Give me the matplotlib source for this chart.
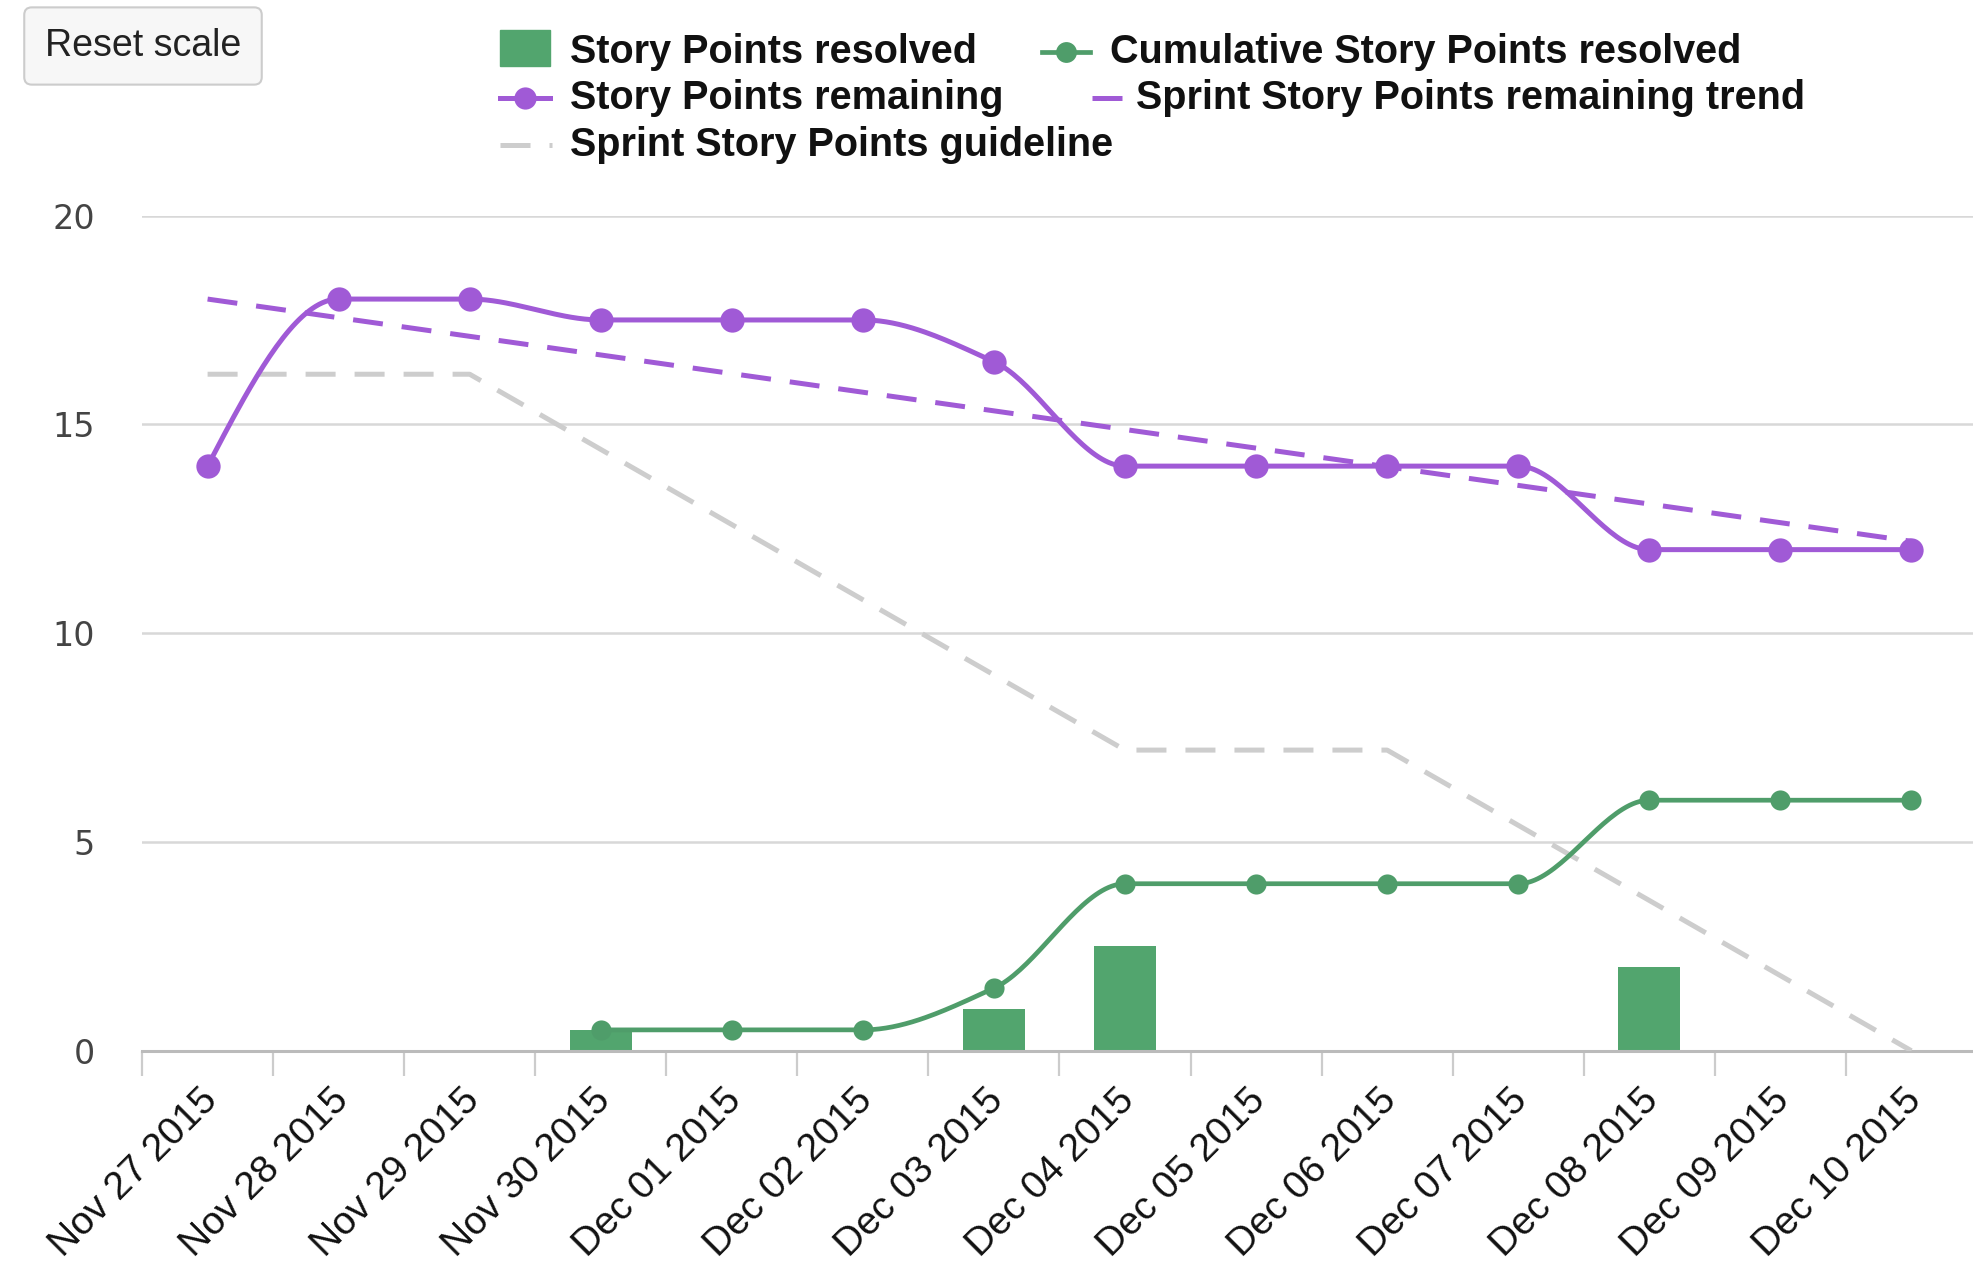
import numpy as np
import matplotlib
matplotlib.use("Agg")
import matplotlib.pyplot as plt
from matplotlib.lines import Line2D
from matplotlib.patches import Rectangle
from matplotlib.transforms import ScaledTranslation


# ── 1. Sprint data ───────────────────────────────────────────────────────────
days = [
    "Nov 27 2015", "Nov 28 2015", "Nov 29 2015", "Nov 30 2015",
    "Dec 01 2015", "Dec 02 2015", "Dec 03 2015", "Dec 04 2015",
    "Dec 05 2015", "Dec 06 2015", "Dec 07 2015", "Dec 08 2015",
    "Dec 09 2015", "Dec 10 2015",
]

# points resolved per day (only days with work done)
resolved_days = [3, 6, 7, 11]
resolved = [0.5, 1.0, 2.5, 2.0]

# cumulative resolved starts on the first day something was closed
cumulative_days = list(range(3, 14))
cumulative = [0.5, 0.5, 0.5, 1.5, 4, 4, 4, 4, 6, 6, 6]

remaining = [14, 18, 18, 17.5, 17.5, 17.5, 16.5, 14, 14, 14, 14, 12, 12, 12]

# ideal burndown, flat over weekends
guideline = [16.2, 16.2, 16.2, 14.4, 12.6, 10.8, 9.0, 7.2, 7.2, 7.2, 5.4, 3.6, 1.8, 0.0]

# linear trend of remaining points (first and last day)
trend_days = [0, 13]
trend = [18.0, 12.2]

PURPLE = "#a05ad6"
GREEN_BAR = "#52a56e"
GREEN_LINE = "#4f9d6a"
GREY_GUIDE = "#cdcdcd"


# ── 2. Monotone cubic smoothing (keeps flat runs flat) ──────────────────────
def smooth(xs, ys, n=40):
    x = np.asarray(xs, dtype=float)
    y = np.asarray(ys, dtype=float)
    h = np.diff(x)
    delta = np.diff(y) / h
    d = np.zeros_like(y)
    for k in range(1, len(x) - 1):
        if delta[k - 1] * delta[k] > 0:
            w1 = 2 * h[k] + h[k - 1]
            w2 = h[k] + 2 * h[k - 1]
            d[k] = (w1 + w2) / (w1 / delta[k - 1] + w2 / delta[k])

    def end_slope(h0, h1, d0, d1):
        s = ((2 * h0 + h1) * d0 - h0 * d1) / (h0 + h1)
        if np.sign(s) != np.sign(d0):
            return 0.0
        if np.sign(d0) != np.sign(d1) and abs(s) > abs(3 * d0):
            return 3 * d0
        return s

    d[0] = end_slope(h[0], h[1], delta[0], delta[1])
    d[-1] = end_slope(h[-1], h[-2], delta[-1], delta[-2])

    out_x, out_y = [], []
    for k in range(len(x) - 1):
        t = np.linspace(0, 1, n, endpoint=False)
        h00 = 2 * t**3 - 3 * t**2 + 1
        h10 = t**3 - 2 * t**2 + t
        h01 = -2 * t**3 + 3 * t**2
        h11 = t**3 - t**2
        out_x.append(x[k] + t * h[k])
        out_y.append(h00 * y[k] + h10 * h[k] * d[k] + h01 * y[k + 1] + h11 * h[k] * d[k + 1])
    out_x.append([x[-1]])
    out_y.append([y[-1]])
    return np.concatenate(out_x), np.concatenate(out_y)


# ── 3. Figure & axes ─────────────────────────────────────────────────────────
W, H = 1973, 1283
fig = plt.figure(figsize=(W / 100, H / 100), dpi=100)
fig.patch.set_facecolor("white")
ax = fig.add_axes([0.072, 0.181, 0.928, 0.651])
ax.set_facecolor("white")

x_idx = np.arange(len(days))

LW = 3.6

# ── 4. Series ────────────────────────────────────────────────────────────────
ax.bar(resolved_days, resolved, width=0.47, color=GREEN_BAR, zorder=2)

ax.plot(x_idx, guideline, color=GREY_GUIDE, lw=LW, dashes=(6, 3.8), zorder=3)
ax.plot(trend_days, trend, color=PURPLE, lw=LW, dashes=(6, 3.8), zorder=4)

sx, sy = smooth(cumulative_days, cumulative)
ax.plot(sx, sy, color=GREEN_LINE, lw=3.4, zorder=5)
ax.plot(cumulative_days, cumulative, "o", color=GREEN_LINE, ms=14.5, mew=0, zorder=6)

sx, sy = smooth(x_idx, remaining)
ax.plot(sx, sy, color=PURPLE, lw=LW, zorder=7)
ax.plot(x_idx, remaining, "o", color=PURPLE, ms=17.5, mew=0, zorder=8)

# ── 5. Axes styling ──────────────────────────────────────────────────────────
ax.set_xlim(-0.5, 13.47)
ax.set_ylim(0, 20)

ax.set_yticks([0, 5, 10, 15, 20])
ax.yaxis.grid(True, color="#d8d8d8", lw=1.8)
ax.set_axisbelow(True)
ax.tick_params(axis="y", length=0, pad=34, labelsize=24, labelcolor="#444444")
for lab in ax.get_yticklabels():
    lab.set_fontfamily("DejaVu Sans")

ax.set_xticks(x_idx)
ax.set_xticklabels(days, rotation=45, ha="right", va="center",
                   rotation_mode="anchor", fontsize=28, color="#111111",
                   family="Liberation Sans")
ax.tick_params(axis="x", length=0, pad=32)
shift = ScaledTranslation(4 / 100, 0, fig.dpi_scale_trans)
for lab in ax.get_xticklabels():
    lab.set_transform(lab.get_transform() + shift)

ax.set_xticks(np.arange(-0.5, 13.5, 1), minor=True)
ax.tick_params(axis="x", which="minor", length=18, width=1.6, color="#cccccc")

for name, spine in ax.spines.items():
    spine.set_visible(name == "bottom")
ax.spines["bottom"].set_color("#bbbbbb")
ax.spines["bottom"].set_linewidth(2.2)

# ── 6. Legend, drawn by hand in pixel space ──────────────────────────────────
def px(x, y):
    return x / W, 1 - y / H

LEG_FONT = dict(fontsize=28.5, fontweight="bold", color="#111111",
                family="Liberation Sans", va="center")

def legend_text(x, y, label):
    fig.text(*px(x, y), label, **LEG_FONT)

# Story Points resolved: green square
x0, y0 = px(500, 66)
fig.add_artist(Rectangle((x0, y0), 50 / W, 36 / H, transform=fig.transFigure,
                         color=GREEN_BAR))
legend_text(570, 52, "Story Points resolved")

# Story Points remaining: purple line + dot
fig.add_artist(Line2D([500 / W, 550 / W], [1 - 98 / H] * 2, transform=fig.transFigure,
                      color=PURPLE, lw=LW))
fig.add_artist(Line2D([525 / W], [1 - 98 / H], transform=fig.transFigure,
                      marker="o", ms=16, mew=0, color=PURPLE))
legend_text(570, 98, "Story Points remaining")

# Sprint Story Points guideline: grey dash
fig.add_artist(Line2D([500 / W, 552 / W], [1 - 145 / H] * 2, transform=fig.transFigure,
                      color=GREY_GUIDE, lw=LW, dashes=(6, 3.8)))
legend_text(570, 145, "Sprint Story Points guideline")

# Cumulative Story Points resolved: green line + dot
fig.add_artist(Line2D([1042 / W, 1090 / W], [1 - 52 / H] * 2, transform=fig.transFigure,
                      color=GREEN_LINE, lw=3.4))
fig.add_artist(Line2D([1066 / W], [1 - 52 / H], transform=fig.transFigure,
                      marker="o", ms=15, mew=0, color=GREEN_LINE))
legend_text(1110, 52, "Cumulative Story Points resolved")

# Sprint Story Points remaining trend: purple dash
fig.add_artist(Line2D([1092 / W, 1122 / W], [1 - 98 / H] * 2, transform=fig.transFigure,
                      color=PURPLE, lw=LW, dashes=(6, 3.8)))
legend_text(1136, 98, "Sprint Story Points remaining trend")

# ── 7. Reset scale button ────────────────────────────────────────────────────
fig.text(*px(143, 46), "Reset scale", fontsize=27, color="#222222",
         family="Liberation Sans", ha="center", va="center",
         bbox=dict(boxstyle="round,pad=0.55,rounding_size=0.2",
                   fc="#f7f7f7", ec="#cccccc", lw=1.5))

fig.savefig("out.png", dpi=100, facecolor="white")
